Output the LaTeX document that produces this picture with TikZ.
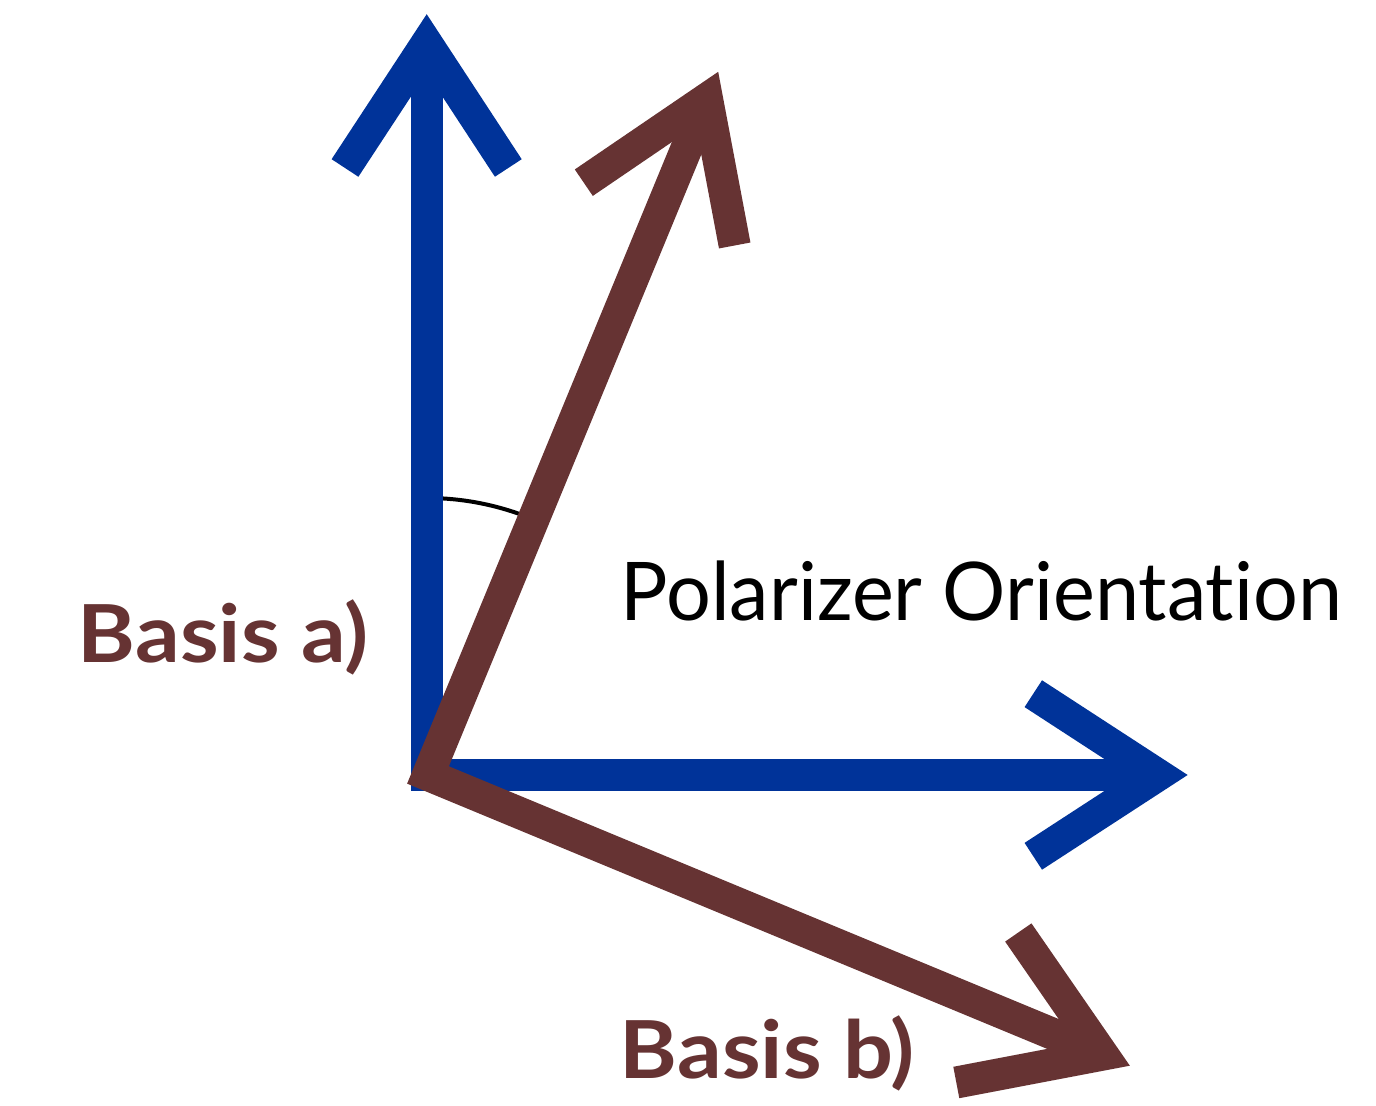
\documentclass[tikz,border=0pt]{standalone}
\usepackage{fontspec}
\setmainfont{Lato}[Ligatures=NoCommon]
\definecolor{axisblue}{RGB}{0,51,153}
\definecolor{basisbrown}{RGB}{102,51,51}
\begin{document}
\begin{tikzpicture}[x=0.5pt,y=0.5pt,
  thick line/.style={line width=16pt, line join=miter, line cap=butt},
  bluearrow/.style={thick line, draw=axisblue},
  brownarrow/.style={thick line, draw=basisbrown},
  anglearc/.style={line width=2pt, draw=black},
  labeltext/.style={inner sep=0pt, anchor=base west},
  basislabel/.style={labeltext, text=basisbrown, xscale=1.1, font=\fontsize{40pt}{48pt}\selectfont\bfseries}]
\useasboundingbox (0,0) rectangle (1376,1106);
% coordinates
\coordinate (C) at (426.7,331);
\coordinate (V) at (426.7,1062.6);
\coordinate (H) at (1158.3,331);
\coordinate (Vl) at (345,938);
\coordinate (Vr) at (508.3,938);
\coordinate (Hu) at (1033.3,412.3);
\coordinate (Hd) at (1033.3,249.7);
\coordinate (O) at (428,331);
\coordinate (A) at (707,1007.2);
\coordinate (Al) at (583.8,923.3);
\coordinate (Ar) at (734.7,860.5);
\coordinate (B) at (1102.7,51.4);
\coordinate (Bu) at (1018.3,173.5);
\coordinate (Bd) at (956.3,23.5);
% angle arc
\draw[anglearc] (C) ++(90:138.5pt) arc[start angle=90, end angle=66, radius=138.5pt];
% blue axes
\draw[bluearrow] (V) -- (C) -- (H);
\draw[bluearrow] (Vl) -- (V) -- (Vr);
\draw[bluearrow] (Hu) -- (H) -- (Hd);
% brown basis
\draw[brownarrow] (A) -- (O) -- (B);
\draw[brownarrow] (Al) -- (A) -- (Ar);
\draw[brownarrow] (Bu) -- (B) -- (Bd);
% labels
\node[labeltext, xscale=0.977, font=\fontsize{40.5pt}{48pt}\selectfont] (pol) at (620.5,485) {Polarizer Orientation};
\node[basislabel] (ba) at (77.5,443) {Basis a)};
\node[basislabel] (bb) at (619.5,27) {Basis b)};
\end{tikzpicture}
\end{document}
